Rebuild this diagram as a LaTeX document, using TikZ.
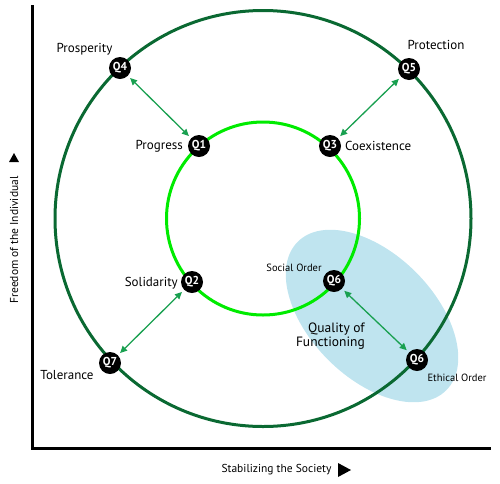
\documentclass[tikz,border=0pt]{standalone}
\usepackage{fontspec}
\setmainfont{PT Sans}
\usetikzlibrary{arrows.meta,shapes.geometric}
\definecolor{outergreen}{RGB}{10,105,50}
\definecolor{innergreen}{RGB}{0,235,0}
\definecolor{arrowgreen}{RGB}{25,160,80}
\definecolor{zone}{RGB}{191,228,239}
\begin{document}
\begin{tikzpicture}[x=1pt,y=-1pt,
  qnode/.style={circle,fill=black,inner sep=0pt,minimum size=22pt,text=white,font=\bfseries\fontsize{11.5}{11.5}\selectfont},
  lbl/.style={font=\fontsize{13}{14}\selectfont,inner sep=1pt},
  small/.style={font=\fontsize{10.5}{12}\selectfont,inner sep=1pt},
  axislbl/.style={font=\fontsize{11.5}{12}\selectfont,inner sep=0pt},
  link/.style={draw=arrowgreen,line width=1.3pt,{Triangle[length=7pt,width=6.5pt]}-{Triangle[length=7pt,width=6.5pt]},shorten <=3pt,shorten >=3pt},
  axis/.style={line width=3pt,black}]
\useasboundingbox (0,0) rectangle (500,483);
% quality zone
\node[ellipse,fill=zone,minimum width=210pt,minimum height=124pt,inner sep=0pt,rotate=-45] (zonee) at (372,316) {};
% circles
\coordinate (c) at (263,218.5);
\draw[outergreen,line width=3pt] (c) circle (208);
\draw[innergreen,line width=3pt] (c) circle (96.5);
% axes
\coordinate (top) at (32,5);
\coordinate (origin) at (32,448);
\coordinate (right) at (491,448);
\draw[axis] (top) -- (origin) -- (right);
% axis labels
\node[axislbl,rotate=90] (ylab) at (14,240) {Freedom of the Individual};
\fill (9,162) -- (19,162) -- (14,153) -- cycle;
\node[axislbl] (xlab) at (276.5,470) {Stabilizing the Society};
\fill (338,463) -- (338,477) -- (351,470) -- cycle;
% Q nodes
\node[qnode] (q4) at (120,68) {Q4};
\node[qnode] (q1) at (199,146) {Q1};
\node[qnode] (q5) at (409,69) {Q5};
\node[qnode] (q3) at (330,146) {Q3};
\node[qnode] (q2) at (192,282) {Q2};
\node[qnode] (q7) at (110,363) {Q7};
\node[qnode] (q6i) at (334,281) {Q6};
\node[qnode] (q6o) at (417,360) {Q6};
% links
\draw[link] (q4) -- (q1);
\draw[link] (q5) -- (q3);
\draw[link] (q2) -- (q7);
\draw[link] (q6i) -- (q6o);
% labels
\node[lbl] (lprosp) at (84.5,49) {Prosperity};
\node[lbl,anchor=east] (lprog) at (184,146) {Progress};
\node[lbl] (lprot) at (436,45) {Protection};
\node[lbl,anchor=west] (lcoex) at (344,146) {Coexistence};
\node[lbl,anchor=east] (lsolid) at (179,283) {Solidarity};
\node[lbl] (ltol) at (67,375) {Tolerance};
\node[small] (lsoc) at (294,268) {Social Order};
\node[small] (leth) at (457,378) {Ethical Order};
\node[lbl,anchor=east,align=right,font=\fontsize{13.5}{14.5}\selectfont] (lqual) at (366,336) {Quality of\\Functioning};
\end{tikzpicture}
\end{document}
